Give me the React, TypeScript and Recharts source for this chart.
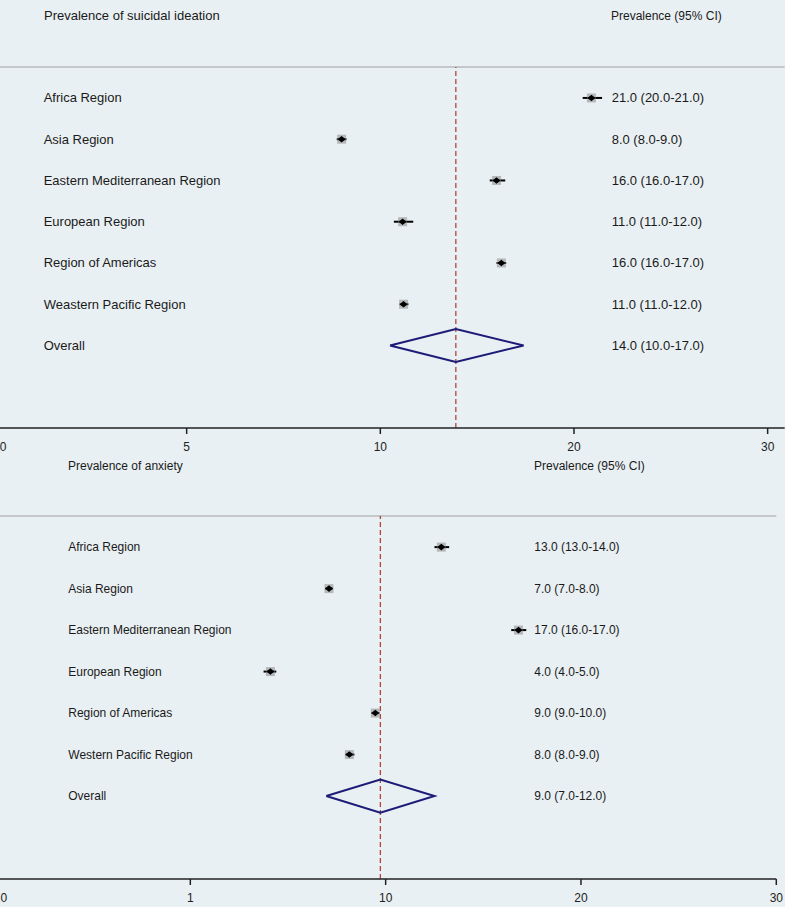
import React from 'react'
import { ComposedChart, Scatter, Line, XAxis, YAxis, ReferenceLine, ErrorBar } from 'recharts'

const regions = [
  'Africa Region',
  'Asia Region',
  'Eastern Mediterranean Region',
  'European Region',
  'Region of Americas',
  'Weastern Pacific Region',
]
const anxietyRegions = [
  'Africa Region',
  'Asia Region',
  'Eastern Mediterranean Region',
  'European Region',
  'Region of Americas',
  'Western Pacific Region',
]

// suicidal ideation: point estimate and CI ends as drawn
const siEst = [20.9, 8.0, 16.0, 11.15, 16.25, 11.2]
const siLow = [20.45, 7.75, 15.65, 10.7, 16.0, 11.0]
const siHigh = [21.45, 8.25, 16.45, 11.7, 16.5, 11.45]
const siOverall = [10.5, 13.9, 17.4] // low, est, high
const siLabels = [
  '21.0 (20.0-21.0)',
  '8.0 (8.0-9.0)',
  '16.0 (16.0-17.0)',
  '11.0 (11.0-12.0)',
  '16.0 (16.0-17.0)',
  '11.0 (11.0-12.0)',
  '14.0 (10.0-17.0)',
]

// anxiety
const axEst = [12.85, 7.1, 16.8, 4.1, 9.47, 8.14]
const axLow = [12.5, 6.9, 16.43, 3.75, 9.27, 7.94]
const axHigh = [13.25, 7.3, 17.2, 4.4, 9.68, 8.4]
const axOverall = [6.96, 9.73, 12.5]
const axLabels = [
  '13.0 (13.0-14.0)',
  '7.0 (7.0-8.0)',
  '17.0 (16.0-17.0)',
  '4.0 (4.0-5.0)',
  '9.0 (9.0-10.0)',
  '8.0 (8.0-9.0)',
  '9.0 (7.0-12.0)',
]

const tickValues = [-10, 0, 10, 20, 30]
const siTickLabels = ['0', '5', '10', '20', '30']
const axTickLabels = ['0', '1', '10', '20', '30']

const FONT = '"Liberation Sans", Arial, sans-serif'
const BG = '#e9f0f3'

type PanelProps = {
  top: number
  height: number
  shift: number
  width: number
  rightPad: number
  xMax: number
  marginTop: number
  axisHeight: number
  fontSize: number
  labelX: number
  ciX: number
  names: string[]
  est: number[]
  low: number[]
  high: number[]
  overall: number[]
  labels: string[]
  tickLabels: string[]
}

function Marker(props: any) {
  const { cx, cy } = props
  if (cx == null || cy == null) return null
  return (
    <g>
      <rect x={cx - 4.5} y={cy - 4.5} width={9} height={9} fill="#8a8a8a" opacity={0.55} />
      <path d={`M${cx - 4},${cy} L${cx},${cy - 3.3} L${cx + 4},${cy} L${cx},${cy + 3.3} Z`} fill="#000" />
    </g>
  )
}

function Panel(p: PanelProps) {
  const points = p.est.map((v, i) => ({
    x: v,
    y: i + 1,
    err: [v - p.low[i], p.high[i] - v],
  }))
  const [lo, mid, hi] = p.overall
  const diamond = [
    { x: lo, y: 7 },
    { x: mid, y: 6.6 },
    { x: hi, y: 7 },
    { x: mid, y: 7.4 },
    { x: lo, y: 7 },
  ]
  const rows = [...p.names, 'Overall'].map((name, i) => ({
    x: 0,
    y: i + 1,
    name,
    ci: p.labels[i],
  }))

  const RowText = (sp: any) => {
    const { cy, payload } = sp
    if (cy == null) return null
    return (
      <g>
        <text x={p.labelX + p.shift} y={cy} dominantBaseline="central" textAnchor="start"
          fontSize={p.fontSize} fontFamily={FONT} fill="#1a1a1a">{payload.name}</text>
        <text x={p.ciX + p.shift} y={cy} dominantBaseline="central" textAnchor="start"
          fontSize={p.fontSize} fontFamily={FONT} fill="#1a1a1a">{payload.ci}</text>
      </g>
    )
  }

  const AxisTick = (tp: any) => {
    const idx = tickValues.indexOf(tp.payload.value)
    const x = Math.max(tp.x, p.shift + 3.5)
    return (
      <text x={x} y={tp.y} dy="0.71em" textAnchor="middle" fontSize={12} fontFamily={FONT} fill="#222">
        {p.tickLabels[idx]}
      </text>
    )
  }

  return (
    <div style={{ position: 'absolute', left: -p.shift, top: p.top, width: p.width, height: p.height }}>
      <ComposedChart width={p.width} height={p.height}
        margin={{ top: p.marginTop, right: p.rightPad, bottom: 0, left: 0 }}>
        <XAxis type="number" dataKey="x" domain={[-10, p.xMax]} allowDataOverflow ticks={tickValues}
          interval={0} height={p.axisHeight} axisLine={{ stroke: '#222', strokeWidth: 1.5 }}
          tickLine={{ stroke: '#222', strokeWidth: 1.5 }} tickSize={6} tickMargin={8} tick={AxisTick} />
        <YAxis type="number" dataKey="y" domain={[0.25, 9]} reversed allowDataOverflow hide />
        <ReferenceLine y={0.25} stroke="#c4c8ca" strokeWidth={2} />
        <ReferenceLine x={mid} stroke="#b0443e" strokeWidth={1.3} strokeDasharray="5 3" />
        <Scatter data={rows} shape={RowText} isAnimationActive={false} />
        <Scatter data={points} shape={Marker} isAnimationActive={false}>
          <ErrorBar dataKey="err" direction="x" width={0} stroke="#000" strokeWidth={2} isAnimationActive={false} />
        </Scatter>
        <Line data={diamond} dataKey="y" type="linear" stroke="#1c1c78" strokeWidth={2} dot={false}
          activeDot={false} isAnimationActive={false} />
      </ComposedChart>
    </div>
  )
}

function Heading({ x, y, size, children }: { x: number; y: number; size: number; children: React.ReactNode }) {
  return (
    <div style={{ position: 'absolute', left: x, top: y - 8, lineHeight: '16px', fontSize: size,
      fontFamily: FONT, color: '#1a1a1a', whiteSpace: 'nowrap' }}>
      {children}
    </div>
  )
}

export default function App() {
  return (
    <div style={{ position: 'absolute', left: 0, top: 0, width: 785, height: 907, overflow: 'hidden', background: BG }}>
      <Panel top={0} height={455} shift={6.7} width={791.7} rightPad={0} xMax={30.88} marginTop={67} axisHeight={27}
        fontSize={13} labelX={44} ciX={612} names={regions} est={siEst} low={siLow} high={siHigh}
        overall={siOverall} labels={siLabels} tickLabels={siTickLabels} />
      <Panel top={455} height={452} shift={5.3} width={792.3} rightPad={11} xMax={30} marginTop={61} axisHeight={28}
        fontSize={12} labelX={68} ciX={534} names={anxietyRegions} est={axEst} low={axLow} high={axHigh}
        overall={axOverall} labels={axLabels} tickLabels={axTickLabels} />
      <Heading x={44} y={16} size={13}>Prevalence of suicidal ideation</Heading>
      <Heading x={611} y={16} size={12}>Prevalence (95% CI)</Heading>
      <Heading x={68} y={466} size={12}>Prevalence of anxiety</Heading>
      <Heading x={534} y={466} size={12}>Prevalence (95% CI)</Heading>
    </div>
  )
}
